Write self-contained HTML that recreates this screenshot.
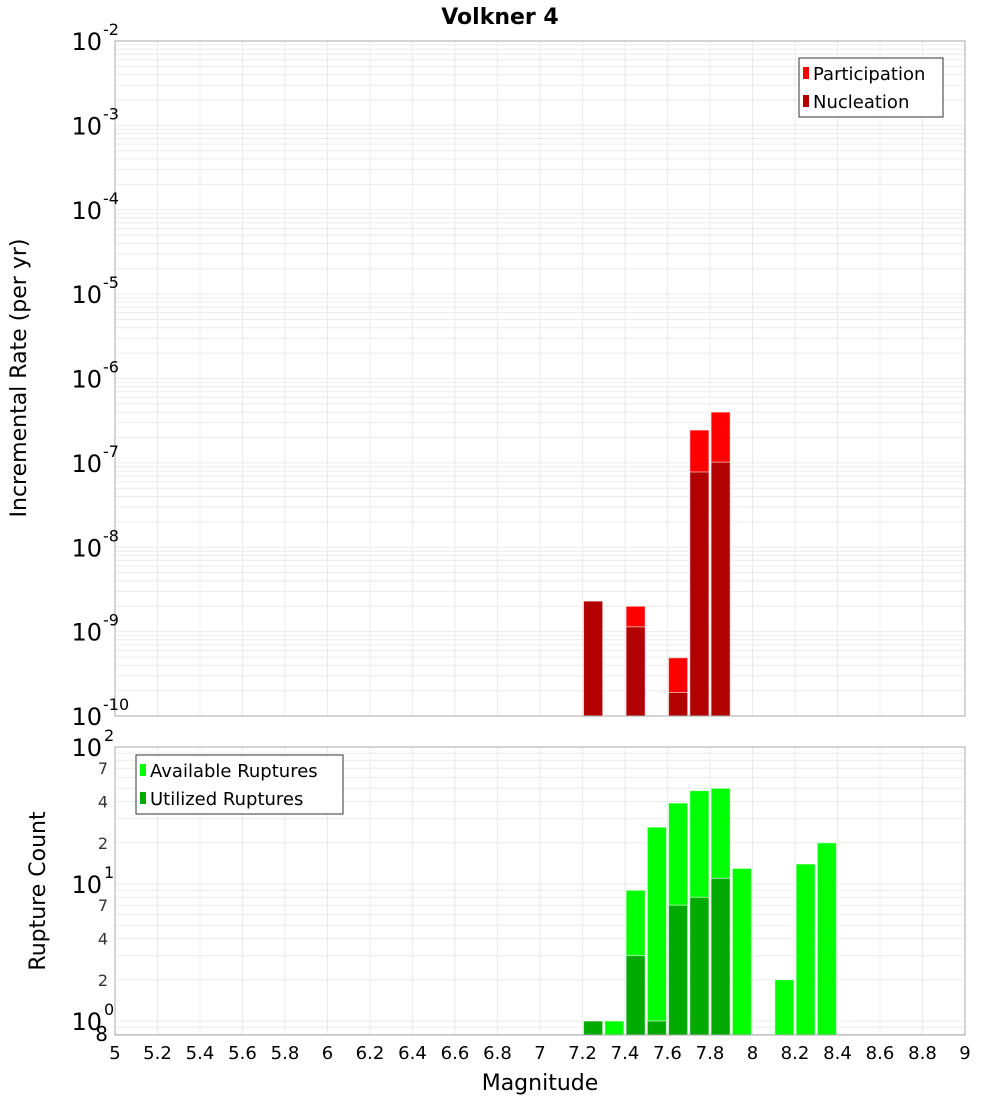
<!DOCTYPE html>
<html><head><meta charset="utf-8"><style>
html,body{margin:0;padding:0;background:#fff;}
svg{display:block;font-family:"DejaVu Sans","Liberation Sans",sans-serif;}
</style></head><body>
<svg id="c" width="1000" height="1100" xmlns="http://www.w3.org/2000/svg">
<text x="500" y="24" text-anchor="middle" font-size="22" font-weight="bold">Volkner 4</text>
<g id="topg"></g>
<g id="botg"></g>
</svg>
<script>
// data
const magBins = [7.25, 7.45, 7.65, 7.75, 7.85];
const participation = [2.3e-9, 2.0e-9, 4.9e-10, 2.45e-7, 4.0e-7];
const nucleation = [2.3e-9, 1.14e-9, 1.9e-10, 7.8e-8, 1.02e-7];
const countBins = [7.25, 7.35, 7.45, 7.55, 7.65, 7.75, 7.85, 7.95, 8.15, 8.25, 8.35];
const available = [1, 1, 9, 26, 39, 48, 50, 13, 2, 14, 20];
const utilized = [1, 0, 3, 1, 7, 8, 11, 0, 0, 0, 0];
const xTicks = ["5","5.2","5.4","5.6","5.8","6","6.2","6.4","6.6","6.8","7","7.2","7.4","7.6","7.8","8","8.2","8.4","8.6","8.8","9"];
const topExps = [-10,-9,-8,-7,-6,-5,-4,-3,-2];
const botExps = [0,1,2];
const botMinor = [2,4,7];

const NS="http://www.w3.org/2000/svg";
function mk(parent,tag,attrs,txt){const e=document.createElementNS(NS,tag);for(const k in attrs)e.setAttribute(k,attrs[k]);if(txt!==undefined)e.textContent=txt;parent.appendChild(e);return e;}
const X0=115,X1=965;
const xs=m=>X0+(m-5)/4*(X1-X0);
const T0=41,T1=716; const yT=v=>T1-(Math.log10(v)+10)/8*(T1-T0);
const B0=747,B1=1035; const bPer=137; const yB=v=>1021-Math.log10(v)*bPer;
const topG=document.getElementById('topg'), botG=document.getElementById('botg');

function grid(g,yTop,yBot,ylines){
  for(const y of ylines){const l=mk(g,'line',{x1:X0,x2:X1,y1:y,y2:y,stroke:'#ebebeb','stroke-width':1});
  
  }
  for(let i=0;i<xTicks.length;i++){const x=xs(parseFloat(xTicks[i]));const l=mk(g,'line',{x1:x,x2:x,y1:yTop,y2:yBot,stroke:'#ebebeb','stroke-width':1});
  
  }
}
let tl=[];for(let e=-10;e<-2;e++)for(let k=1;k<10;k++)tl.push(yT(k*Math.pow(10,e)));
grid(topG,T0,T1,tl);
let bl=[];for(let e=-1;e<2;e++)for(let k=1;k<10;k++){const v=k*Math.pow(10,e);if(v>=0.8)bl.push(yB(v));}
grid(botG,B0,B1,bl);

function bar(g,m,v,base,yf,fill,name){
  if(v<=0)return;const x=xs(m-0.045),w=xs(m+0.045)-x;const y=yf(v);
  const r=mk(g,'rect',{x:x,y:y,width:w,height:base-y,fill:fill,stroke:'#fff','stroke-opacity':0.6,'stroke-width':1});
  
  
}
for(let i=0;i<magBins.length;i++)bar(topG,magBins[i],participation[i],T1,yT,'#ff0000','participation-bar');
for(let i=0;i<magBins.length;i++)bar(topG,magBins[i],nucleation[i],T1,yT,'#b30000','nucleation-bar');
for(let i=0;i<countBins.length;i++)bar(botG,countBins[i],available[i],B1,yB,'#00ff00','available-bar');
for(let i=0;i<countBins.length;i++)bar(botG,countBins[i],utilized[i],B1,yB,'#00aa00','utilized-bar');

let f1=mk(topG,'rect',{x:X0,y:T0,width:X1-X0,height:T1-T0,fill:'none',stroke:'#aaaaaa'});


let f2=mk(botG,'rect',{x:X0,y:B0,width:X1-X0,height:B1-B0,fill:'none',stroke:'#aaaaaa'});



for(const e of topExps){const y=yT(Math.pow(10,e));
  const t=mk(topG,'text',{x:102,y:y+9,'text-anchor':'end','font-size':24},'10');
  
  
  const s=mk(topG,'text',{x:103,y:y-6,'font-size':16},String(e));
  
  
}
for(const e of botExps){const y=yB(Math.pow(10,e));
  const t=mk(botG,'text',{x:102,y:y+9,'text-anchor':'end','font-size':24},'10');
  
  
  const s=mk(botG,'text',{x:104,y:y-6,'font-size':16},String(e));
  
  
  for(const k of botMinor){if(e===2)continue;const yy=yB(k*Math.pow(10,e));
    const m=mk(botG,'text',{x:108,y:yy+6,'text-anchor':'end','font-size':16,fill:'#333'},String(k));
    
    }
}
const ml=mk(botG,'text',{x:108,y:1041,'text-anchor':'end','font-size':20},'8');



for(const s of xTicks){const t=mk(botG,'text',{x:xs(parseFloat(s)),y:1059,'text-anchor':'middle','font-size':18},s);
  
  }
let xt=mk(botG,'text',{x:540,y:1090,'text-anchor':'middle','font-size':22},'Magnitude');


let yt1=mk(topG,'text',{x:0,y:0,'text-anchor':'middle','font-size':22,transform:'translate(26,378) rotate(-90)'},'Incremental Rate (per yr)');


let yt2=mk(botG,'text',{x:0,y:0,'text-anchor':'middle','font-size':22,transform:'translate(45,891) rotate(-90)'},'Rupture Count');



function legend(g,x,y,w,items,name){
  const lg=mk(g,'g',{});
  
  
  mk(lg,'rect',{x:x,y:y,width:w,height:59,fill:'#fff',stroke:'#333'});
  items.forEach((it,i)=>{const yy=y+15+i*28;
    const s=mk(lg,'rect',{x:x+4,y:yy-6,width:6,height:12,fill:it[1]});
    
    
    const t=mk(lg,'text',{x:x+14,y:yy+7,'font-size':18},it[0]);
    
    });
}
legend(topG,799,58,144,[['Participation','#ff0000'],['Nucleation','#b30000']],'rate-legend');
legend(botG,136,755,207,[['Available Ruptures','#00ff00'],['Utilized Ruptures','#00aa00']],'count-legend');
</script>
</body></html>
